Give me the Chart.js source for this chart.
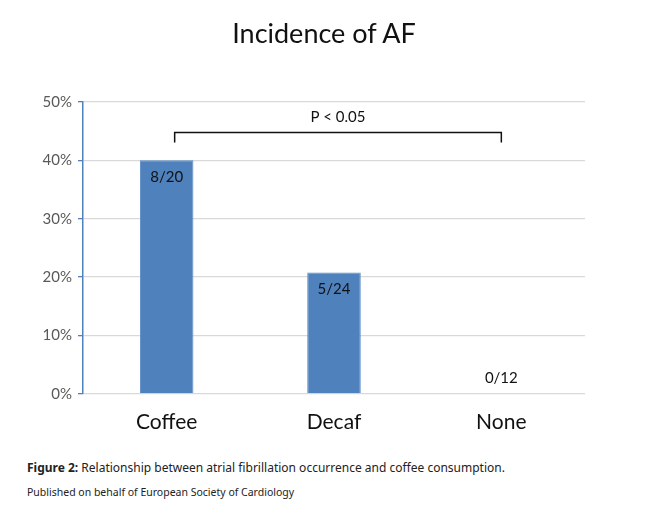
<!DOCTYPE html>
<html>
<head>
<meta charset="utf-8">
<script src="https://cdn.jsdelivr.net/npm/chart.js@4"></script>
<style>
  body { margin: 0; background: #fff; }
  #wrap { position: absolute; left: 0; top: 0; width: 648px; height: 457px; }
  #title { position: absolute; left: 0; top: 14px; width: 648px; text-align: center;
           font-family: Lato, sans-serif; font-size: 27px; color: #111; line-height: 38px; }
  .cap { position: absolute; left: 27px; font-family: "Noto Sans", sans-serif; color: #222; }
  #cap1 { top: 459px; font-size: 12px; }
  #cap2 { top: 485px; font-size: 10.5px; }
</style>
</head>
<body>
<div id="wrap"><canvas id="chart"></canvas></div>
<div id="title">Incidence of AF</div>
<div class="cap" id="cap1"><b>Figure 2:</b> Relationship between atrial fibrillation occurrence and coffee consumption.</div>
<div class="cap" id="cap2">Published on behalf of European Society of Cardiology</div>
<script>
var categories = ['Coffee', 'Decaf', 'None'];
var incidence = [40, 20.8, 0];
var countLabels = ['8/20', '5/24', '0/12'];
var yTicks = [0, 10, 20, 30, 40, 50];
var pText = 'P < 0.05';
var pLevel = 44.8;

var barLabels = {
    id: 'barLabels',
    afterDatasetsDraw: function (chart) {
        var ctx = chart.ctx;
        var meta = chart.getDatasetMeta(0);
        ctx.save();
        ctx.fillStyle = '#111';
        ctx.font = '15px Lato, sans-serif';
        ctx.textAlign = 'center';
        ctx.textBaseline = 'middle';
        meta.data.forEach(function (bar, i) {
            var y = incidence[i] > 0 ? bar.y + 17 : bar.y - 16;
            ctx.fillText(countLabels[i], bar.x, y);
        });

        // significance bracket between Coffee and None
        var x0 = chart.scales.x.getPixelForValue(0) + 8;
        var x1 = chart.scales.x.getPixelForValue(2);
        var yb = Math.round(chart.scales.y.getPixelForValue(pLevel)) + 0.5;
        ctx.strokeStyle = '#111';
        ctx.lineWidth = 1.5;
        ctx.beginPath();
        ctx.moveTo(x0, yb + 10);
        ctx.lineTo(x0, yb);
        ctx.lineTo(x1, yb);
        ctx.lineTo(x1, yb + 10);
        ctx.stroke();
        ctx.fillText(pText, (x0 + x1) / 2, yb - 15);
        ctx.restore();
    }
};

new Chart(document.getElementById('chart'), {
    type: 'bar',
    data: {
        labels: categories,
        datasets: [{
            data: incidence,
            backgroundColor: '#4f81bd',
            borderColor: '#5a8ac4',
            borderWidth: 1,
            barPercentage: 0.32,
            categoryPercentage: 1
        }]
    },
    options: {
        responsive: true,
        maintainAspectRatio: false,
        animation: false,
        layout: { padding: { left: 22, right: 63, top: 102, bottom: 6 } },
        plugins: {
            legend: { display: false },
            tooltip: { enabled: false },
            title: { display: false }
        },
        scales: {
            x: {
                grid: { display: false, drawTicks: false },
                border: { display: false },
                ticks: {
                    color: '#111',
                    padding: 16,
                    font: { family: 'Lato, sans-serif', size: 21 }
                }
            },
            y: {
                min: 0,
                max: 50,
                afterBuildTicks: function (axis) {
                    axis.ticks = yTicks.map(function (v) { return { value: v }; });
                },
                afterFit: function (axis) { axis.width = 61; },
                grid: { color: '#d9d9d9', tickColor: '#4f81bd', tickLength: 5, lineWidth: 1.3 },
                border: { color: '#4f81bd', width: 1.5 },
                ticks: {
                    color: '#595959',
                    padding: 6,
                    font: { family: 'Lato, sans-serif', size: 15 },
                    callback: function (v) { return v + '%'; }
                }
            }
        }
    },
    plugins: [barLabels]
});
</script>
</body>
</html>
